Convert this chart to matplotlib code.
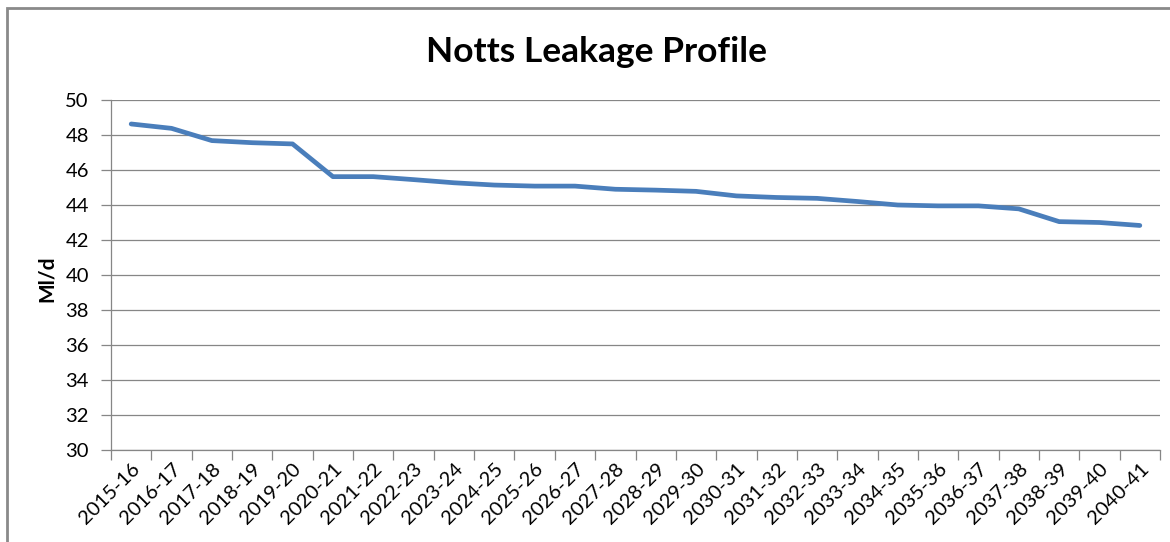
import numpy as np
import matplotlib
matplotlib.use("Agg")
import matplotlib.pyplot as plt
from matplotlib.patches import Rectangle

plt.rcParams['font.family'] = ['Lato', 'DejaVu Sans']

# chart data
years = ['2015-16', '2016-17', '2017-18', '2018-19', '2019-20', '2020-21',
         '2021-22', '2022-23', '2023-24', '2024-25', '2025-26', '2026-27',
         '2027-28', '2028-29', '2029-30', '2030-31', '2031-32', '2032-33',
         '2033-34', '2034-35', '2035-36', '2036-37', '2037-38', '2038-39',
         '2039-40', '2040-41']
leakage = [48.63, 48.38, 47.68, 47.56, 47.49, 45.62, 45.62, 45.45, 45.27,
           45.14, 45.08, 45.08, 44.9, 44.85, 44.78, 44.52, 44.43, 44.38,
           44.2, 44.0, 43.95, 43.95, 43.78, 43.05, 43.0, 42.83]
y_ticks = list(range(30, 51, 2))

W, H = 1170, 542
fig = plt.figure(figsize=(W / 100, H / 100), dpi=100)
fig.patch.set_facecolor('white')

# outer chart border (right/bottom run off the image)
fig.patches.append(Rectangle((7 / W, -0.1), 1.2, 1 - 8 / H + 0.1,
                             transform=fig.transFigure, fill=False,
                             edgecolor='#8a8a8a', linewidth=2.0))

ax = fig.add_axes([111 / W, 1 - 450 / H, (1160 - 111) / W, 350 / H])
x = np.arange(len(years))
ax.plot(x, leakage, color='#4a7ebb', linewidth=3.4, solid_joinstyle='round',
        solid_capstyle='round', zorder=3)

ax.set_xlim(-0.5, len(years) - 0.5)
ax.set_ylim(30, 50)
ax.set_yticks(y_ticks)
ax.set_yticklabels([str(v) for v in y_ticks], fontsize=14.5)
ax.yaxis.grid(True, color='#868686', linewidth=0.9)
ax.set_axisbelow(True)

ax.set_xticks(x)
ax.set_xticklabels(years, rotation=45, ha='right', va='top',
                   rotation_mode='anchor', fontsize=14.5)
ax.tick_params(axis='x', which='major', length=0, pad=7)
ax.set_xticks(np.arange(-0.5, len(years), 1), minor=True)
ax.tick_params(axis='x', which='minor', length=7, color='#868686', width=0.9)
ax.tick_params(axis='y', length=7, color='#868686', width=0.9, pad=9)

for side in ['top', 'right']:
    ax.spines[side].set_visible(False)
for side in ['left', 'bottom']:
    ax.spines[side].set_color('#868686')
    ax.spines[side].set_linewidth(0.9)

ax.set_ylabel('Ml/d', fontsize=15, fontweight='bold')
ax.yaxis.set_label_coords(-54 / 1049, 0.49)
fig.text(596 / W, 1 - 52 / H, 'Notts Leakage Profile', fontsize=25.5,
         fontweight='bold', ha='center', va='center')

fig.savefig('out.png', dpi=100)
